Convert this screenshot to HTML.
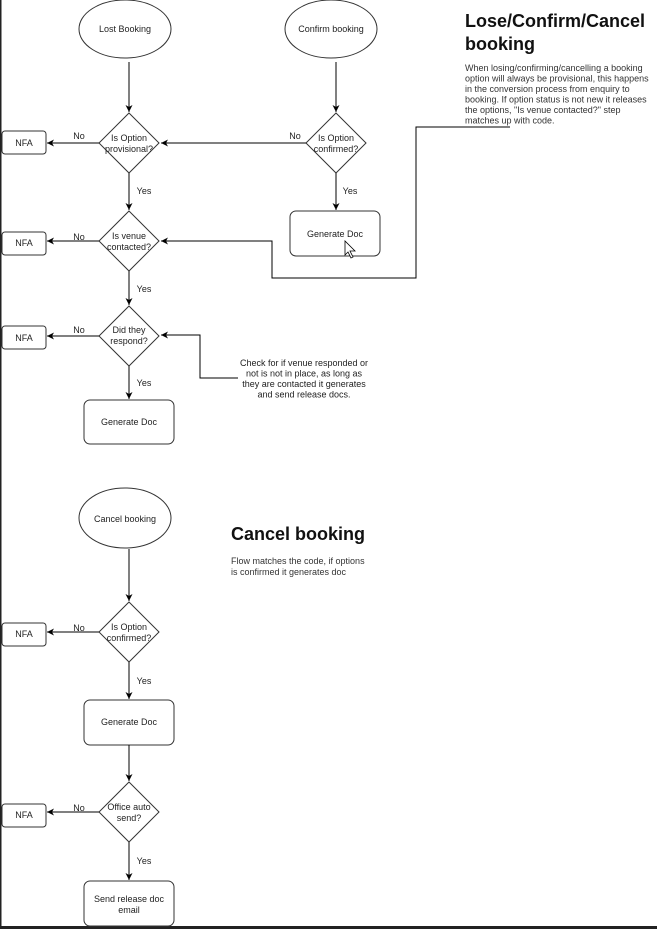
<!DOCTYPE html>
<html><head><style>
body{margin:0;width:657px;height:929px;overflow:hidden;background:#fff;}
svg text{font-family:"Liberation Sans",Arial,sans-serif;}
</style></head><body>
<svg width="657" height="929" viewBox="0 0 657 929" xmlns="http://www.w3.org/2000/svg">
<defs><marker id="a" markerWidth="8" markerHeight="8" refX="7" refY="4" orient="auto" markerUnits="userSpaceOnUse"><path d="M0,0.5 L7,4 L0,7.5 L2,4 Z" fill="#000"/></marker></defs>
<rect x="0" y="0" width="1.5" height="929" fill="#222"/>
<rect x="0" y="926" width="657" height="3" fill="#222"/>
<g fill="#fff" stroke="#333" stroke-width="1">
<ellipse cx="125" cy="29" rx="46" ry="29"/>
<ellipse cx="331" cy="29" rx="46" ry="29"/>
<ellipse cx="125" cy="518" rx="46" ry="30"/>
<path d="M129,113 L159,143 L129,173 L99,143 Z"/>
<path d="M336,113 L366,143 L336,173 L306,143 Z"/>
<path d="M129,211 L159,241 L129,271 L99,241 Z"/>
<path d="M129,306 L159,336 L129,366 L99,336 Z"/>
<path d="M129,602 L159,632 L129,662 L99,632 Z"/>
<path d="M129,782 L159,812 L129,842 L99,812 Z"/>
<rect x="2" y="131" width="44" height="23" rx="3"/>
<rect x="2" y="232" width="44" height="23" rx="3"/>
<rect x="2" y="326" width="44" height="23" rx="3"/>
<rect x="2" y="623" width="44" height="23" rx="3"/>
<rect x="2" y="804" width="44" height="23" rx="3"/>
<rect x="290" y="211" width="90" height="45" rx="6"/>
<rect x="84" y="400" width="90" height="44" rx="6"/>
<rect x="84" y="700" width="90" height="45" rx="6"/>
<rect x="84" y="881" width="90" height="45" rx="6"/>
</g>
<g stroke="#000" stroke-width="1" fill="none" marker-end="url(#a)">
<line x1="129" y1="62" x2="129" y2="112"/>
<line x1="336" y1="62" x2="336" y2="112"/>
<line x1="99" y1="143" x2="47" y2="143"/>
<line x1="306" y1="143" x2="161" y2="143"/>
<line x1="129" y1="173" x2="129" y2="210"/>
<line x1="336" y1="173" x2="336" y2="210"/>
<line x1="99" y1="241" x2="47" y2="241"/>
<polyline points="510,127 416,127 416,278 272,278 272,241 161,241"/>
<line x1="129" y1="271" x2="129" y2="305"/>
<line x1="99" y1="336" x2="47" y2="336"/>
<polyline points="238,378 200,378 200,335 161,335"/>
<line x1="129" y1="366" x2="129" y2="399"/>
<line x1="129" y1="549" x2="129" y2="601"/>
<line x1="99" y1="632" x2="47" y2="632"/>
<line x1="129" y1="662" x2="129" y2="699"/>
<line x1="129" y1="745" x2="129" y2="781"/>
<line x1="99" y1="812" x2="47" y2="812"/>
<line x1="129" y1="842" x2="129" y2="880"/>
</g>
<g font-size="9" fill="#222" text-anchor="middle">
<text x="125" y="32">Lost Booking</text>
<text x="331" y="32">Confirm booking</text>
<text x="125" y="522">Cancel booking</text>
<text x="129" y="141">Is Option</text><text x="129" y="152">provisional?</text>
<text x="336" y="141">Is Option</text><text x="336" y="152">confirmed?</text>
<text x="129" y="239">Is venue</text><text x="129" y="250">contacted?</text>
<text x="129" y="333">Did they</text><text x="129" y="344">respond?</text>
<text x="129" y="630">Is Option</text><text x="129" y="641">confirmed?</text>
<text x="129" y="810">Office auto</text><text x="129" y="821">send?</text>
<text x="24" y="146">NFA</text><text x="24" y="246">NFA</text><text x="24" y="341">NFA</text><text x="24" y="637">NFA</text><text x="24" y="818">NFA</text>
<text x="335" y="237">Generate Doc</text>
<text x="129" y="425">Generate Doc</text>
<text x="129" y="725">Generate Doc</text>
<text x="129" y="902">Send release doc</text><text x="129" y="913">email</text>
<text x="79" y="139">No</text><text x="295" y="139">No</text><text x="79" y="240">No</text><text x="79" y="333">No</text><text x="79" y="631">No</text><text x="79" y="811">No</text>
<text x="144" y="194">Yes</text><text x="350" y="194">Yes</text><text x="144" y="292">Yes</text><text x="144" y="386">Yes</text><text x="144" y="684">Yes</text><text x="144" y="864">Yes</text>
<text x="304" y="366">Check for if venue responded or</text>
<text x="304" y="376.5">not is not in place, as long as</text>
<text x="304" y="387">they are contacted it generates</text>
<text x="304" y="397.5">and send release docs.</text>
</g>
<path d="M345,241 L345,255 L348,252 L351,258 L353,257 L350,251 L355,251 Z" fill="#fff" stroke="#000" stroke-width="0.8"/>
<g fill="#111" font-weight="bold" font-size="18">
<text x="465" y="27">Lose/Confirm/Cancel</text>
<text x="465" y="50">booking</text>
<text x="231" y="540">Cancel booking</text>
</g>
<g fill="#333" font-size="9">
<text x="465" y="71">When losing/confirming/cancelling a booking</text>
<text x="465" y="81.5">option will always be provisional, this happens</text>
<text x="465" y="92">in the conversion process from enquiry to</text>
<text x="465" y="102.5">booking. If option status is not new it releases</text>
<text x="465" y="113">the options, "Is venue contacted?" step</text>
<text x="465" y="123.5">matches up with code.</text>
<text x="231" y="564">Flow matches the code, if options</text>
<text x="231" y="575">is confirmed it generates doc</text>
</g>
</svg>
</body></html>
